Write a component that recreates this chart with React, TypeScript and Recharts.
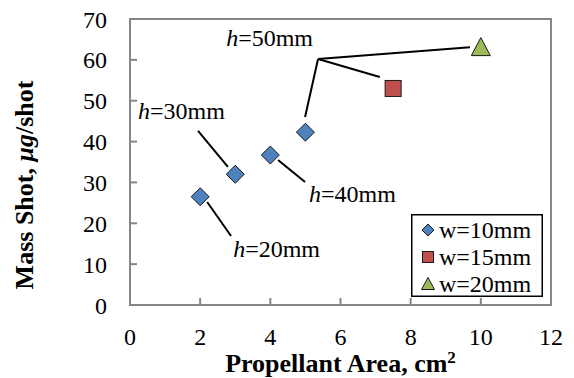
import { ScatterChart, Scatter, XAxis, YAxis, ReferenceLine, ReferenceDot, ReferenceArea, Legend } from 'recharts'

const FONT = '"Liberation Serif", "Times New Roman", serif'

// propellant area (cm^2) and mass shot (ug/shot) per width
const areaW10 = [2, 3, 4, 5]
const shotW10 = [26.5, 32, 36.7, 42.3]
const areaW15 = [7.5]
const shotW15 = [53]
const areaW20 = [10]
const shotW20 = [63]

const xTicks = [0, 2, 4, 6, 8, 10, 12]
const yTicks = [0, 10, 20, 30, 40, 50, 60, 70]

const seriesNames = ['w=10mm', 'w=15mm', 'w=20mm']

// callout text (left edge / baseline) and leader lines, in data units
const noteText = ['20mm', '30mm', '40mm', '50mm']
const noteX = [2.94, 0.23, 5.1, 2.74]
const noteY = [11.75, 45.5, 25.2, 63.4]
const leaders = [
  [[2.2, 25.2], [2.88, 16.9]],
  [[1.94, 42.6], [2.79, 33.8]],
  [[4.22, 35.5], [4.99, 30.1]],
  [[5.36, 60.2], [4.99, 46]],
  [[5.36, 60.2], [7.12, 55.8]],
  [[5.36, 60.2], [9.69, 63.1]],
]

const toPoints = (xs: number[], ys: number[]) => xs.map((x, i) => ({ x, y: ys[i] }))

const Diamond = ({ cx, cy }: any) => (
  <polygon points={`${cx},${cy - 9} ${cx + 9},${cy} ${cx},${cy + 9} ${cx - 9},${cy}`} fill="#4F81BD" stroke="#1a1a1a" strokeWidth={1} />
)
const Square = ({ cx, cy }: any) => (
  <rect x={cx - 8} y={cy - 8} width={16} height={16} fill="#C0504D" stroke="#1a1a1a" strokeWidth={1} />
)
const Triangle = ({ cx, cy }: any) => (
  <polygon points={`${cx},${cy - 10} ${cx + 9.5},${cy + 8} ${cx - 9.5},${cy + 8}`} fill="#9BBB59" stroke="#1a1a1a" strokeWidth={1} />
)

const legendIcon = (i: number, cx: number, cy: number) => {
  if (i === 0) return <polygon points={`${cx},${cy - 6} ${cx + 6},${cy} ${cx},${cy + 6} ${cx - 6},${cy}`} fill="#4F81BD" stroke="#1a1a1a" strokeWidth={1} />
  if (i === 1) return <rect x={cx - 5.5} y={cy - 5.5} width={11} height={11} fill="#C0504D" stroke="#1a1a1a" strokeWidth={1} />
  return <polygon points={`${cx},${cy - 6.5} ${cx + 6.5},${cy + 5.5} ${cx - 6.5},${cy + 5.5}`} fill="#9BBB59" stroke="#1a1a1a" strokeWidth={1} />
}

const renderLegend = () => (
  <svg width={132} height={83} style={{ display: 'block' }}>
    <rect x={0.75} y={0.75} width={130.5} height={81.5} fill="#fff" stroke="#000" strokeWidth={1.5} />
    {seriesNames.map((n, i) => (
      <g key={n}>
        {legendIcon(i, 17, 16 + i * 27)}
        <text x={28} y={24 + i * 27} fontFamily={FONT} fontSize={24} fill="#000">{n}</text>
      </g>
    ))}
  </svg>
)

const noteLabel = (text: string) => (props: any) => {
  const { x, y } = props.viewBox
  return (
    <text x={x} y={y} fontFamily={FONT} fontSize={24} fill="#000">
      <tspan fontStyle="italic">h</tspan>={text}
    </text>
  )
}

const yTitle = (props: any) => {
  const { y, height } = props.viewBox
  const cy = y + height / 2 + 23
  return (
    <text x={33} y={cy} transform={`rotate(-90, 33, ${cy})`} textAnchor="middle" fontFamily={FONT} fontSize={26} fontWeight="bold" fill="#000">
      Mass Shot, <tspan fontStyle="italic">μg</tspan>/shot
    </text>
  )
}

const xTitle = (props: any) => {
  const { x, y, width } = props.viewBox
  return (
    <text x={x + width / 2} y={y + 67} textAnchor="middle" fontFamily={FONT} fontSize={26} fontWeight="bold" fill="#000">
      Propellant Area, cm<tspan fontSize={17} dy={-9}>2</tspan>
    </text>
  )
}

export default function App() {
  const tickStyle = { fill: '#000', fontSize: 24, fontFamily: FONT }
  const axisStroke = { stroke: '#868686', strokeWidth: 2 }
  return (
    <div style={{ position: 'absolute', left: 0, top: 0, background: '#fff' }}>
      <ScatterChart width={574} height={378} margin={{ top: 19, right: 23, left: 0, bottom: 0 }}>
        <XAxis
          type="number"
          dataKey="x"
          domain={[0, 12]}
          ticks={xTicks}
          tick={tickStyle}
          tickSize={-7}
          tickMargin={30}
          tickLine={axisStroke}
          axisLine={axisStroke}
          height={73}
          label={{ content: xTitle }}
        />
        <YAxis
          type="number"
          dataKey="y"
          domain={[0, 70]}
          ticks={yTicks}
          tick={tickStyle}
          tickSize={-7}
          tickMargin={30}
          tickLine={axisStroke}
          axisLine={axisStroke}
          width={130}
          label={{ content: yTitle }}
        />
        <ReferenceArea x1={0} x2={12} y1={0} y2={70} fill="none" stroke="#868686" strokeWidth={2} />
        {leaders.map((seg, i) => (
          <ReferenceLine
            key={'l' + i}
            segment={[{ x: seg[0][0], y: seg[0][1] }, { x: seg[1][0], y: seg[1][1] }]}
            stroke="#000"
            strokeWidth={2}
          />
        ))}
        {noteText.map((t, i) => (
          <ReferenceDot key={'n' + i} x={noteX[i]} y={noteY[i]} r={0} fill="none" stroke="none" label={{ content: noteLabel(t) }} />
        ))}
        <Scatter name={seriesNames[0]} data={toPoints(areaW10, shotW10)} fill="#4F81BD" shape={Diamond} isAnimationActive={false} />
        <Scatter name={seriesNames[1]} data={toPoints(areaW15, shotW15)} fill="#C0504D" shape={Square} isAnimationActive={false} />
        <Scatter name={seriesNames[2]} data={toPoints(areaW20, shotW20)} fill="#9BBB59" shape={Triangle} isAnimationActive={false} />
        <Legend
          layout="horizontal"
          verticalAlign="middle"
          align="center"
          content={renderLegend}
          wrapperStyle={{ left: 411, top: 214, width: 132, height: 83 }}
        />
      </ScatterChart>
    </div>
  )
}
